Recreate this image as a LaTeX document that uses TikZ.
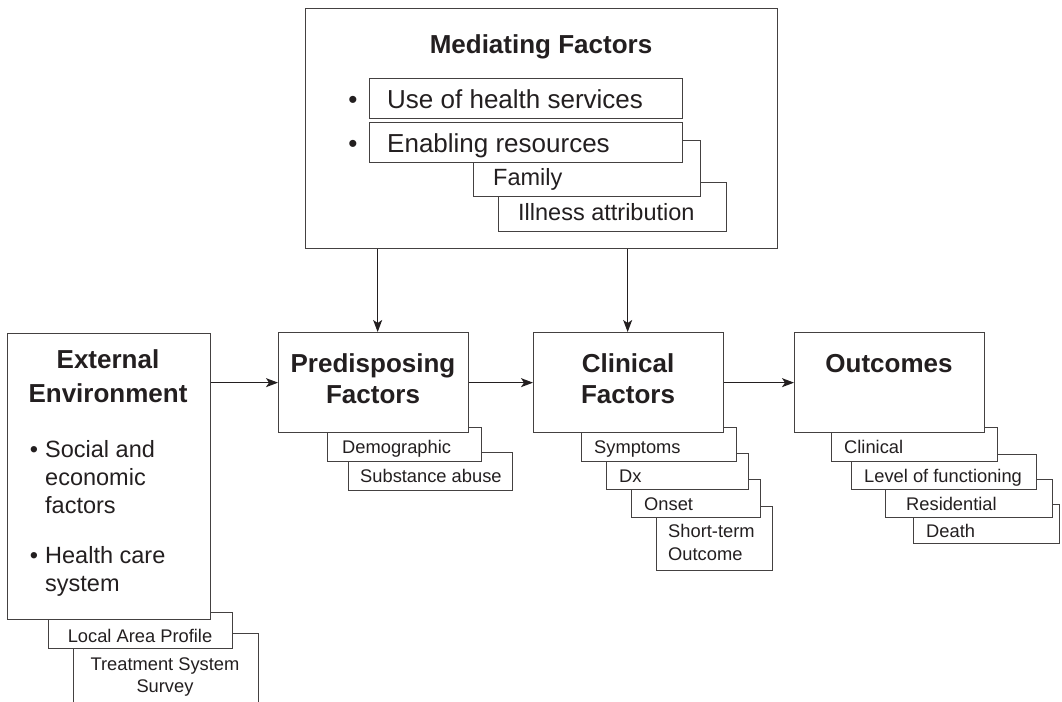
\documentclass[tikz,border=0pt]{standalone}
\usepackage{fontspec}
\setmainfont{Liberation Sans}
\usetikzlibrary{arrows.meta}
\definecolor{ink}{HTML}{231F20}
\tikzset{
  mbox/.style={draw=ink!85, line width=1.3pt, fill=white, anchor=north west, inner sep=0pt},
  sbox/.style={draw=ink!85, line width=1.1pt, fill=white, anchor=north west, inner sep=0pt},
  ttl/.style={font=\fontsize{26}{31}\selectfont\bfseries, text=ink, inner sep=0pt, anchor=base},
  big/.style={font=\fontsize{26}{31}\selectfont, text=ink, inner sep=0pt, anchor=base west},
  mid/.style={font=\fontsize{23.5}{28}\selectfont, text=ink, inner sep=0pt, anchor=base west},
  sml/.style={font=\fontsize{18.3}{22}\selectfont, text=ink, inner sep=0pt, anchor=base west},
  arr/.style={draw=ink, line width=1.1pt, -{Stealth[length=12pt,width=9pt,inset=3pt]}}
}
\begin{document}
\begin{tikzpicture}[x=1pt,y=-1pt]
\clip (0,0) rectangle (1062,701);
\fill[white] (0,0) rectangle (1062,701);

% Mediating factors
\node[mbox, minimum width=472, minimum height=240] (med) at (305,8) {};
\node[sbox, minimum width=228, minimum height=49] (ill) at (498,182) {};
\node[sbox, minimum width=227, minimum height=56] (fam) at (473,140) {};
\node[sbox, minimum width=313, minimum height=40] (ena) at (369,122) {};
\node[sbox, minimum width=313, minimum height=40] (use) at (369,78) {};
\node[ttl] (medT) at (541,54) {Mediating Factors};
\node[big, anchor=base] (b1) at (353,108) {•};
\node[big, anchor=base] (b2) at (353,152) {•};
\node[big] (useT) at (387,108) {Use of health services};
\node[big] (enaT) at (387,152) {Enabling resources};
\node[mid] (famT) at (493,185) {Family};
\node[mid] (illT) at (518,220) {Illness attribution};

% External environment
\node[sbox, minimum width=185, minimum height=100] (tss) at (73,633) {};
\node[sbox, minimum width=184, minimum height=36] (lap) at (48,612) {};
\node[mbox, minimum width=203, minimum height=286] (ext) at (7,333) {};
\node[ttl] (extT1) at (108,368) {External};
\node[ttl] (extT2) at (108,402) {Environment};
\node[mid, anchor=base] (b3) at (34,457) {•};
\node[mid, anchor=base] (b4) at (34,563) {•};
\node[mid] (e1) at (45,457) {Social and};
\node[mid] (e2) at (45,485) {economic};
\node[mid] (e3) at (45,513) {factors};
\node[mid] (e4) at (45,563) {Health care};
\node[mid] (e5) at (45,591) {system};
\node[sml, anchor=base] (lapT) at (140,642) {Local Area Profile};
\node[sml, anchor=base] (tssT1) at (165,670) {Treatment System};
\node[sml, anchor=base] (tssT2) at (165,692) {Survey};

% Predisposing factors
\node[sbox, minimum width=164, minimum height=38] (sub) at (348,452) {};
\node[sbox, minimum width=154, minimum height=34] (dem) at (327,427) {};
\node[mbox, minimum width=190, minimum height=100] (pred) at (278,332) {};
\node[ttl] (predT1) at (373,372) {Predisposing};
\node[ttl] (predT2) at (373,403) {Factors};
\node[sml] (demT) at (342,453) {Demographic};
\node[sml] (subT) at (360,482) {Substance abuse};

% Clinical factors
\node[sbox, minimum width=116, minimum height=64] (sto) at (656,506) {};
\node[sbox, minimum width=129, minimum height=38] (ons) at (631,479) {};
\node[sbox, minimum width=142, minimum height=36] (dx) at (606,453) {};
\node[sbox, minimum width=155, minimum height=34] (sym) at (581,427) {};
\node[mbox, minimum width=190, minimum height=100] (clin) at (533,332) {};
\node[ttl] (clinT1) at (628,372) {Clinical};
\node[ttl] (clinT2) at (628,403) {Factors};
\node[sml] (symT) at (594,453) {Symptoms};
\node[sml] (dxT) at (619,482) {Dx};
\node[sml] (onsT) at (644,510) {Onset};
\node[sml] (stoT1) at (668,537) {Short-term};
\node[sml] (stoT2) at (668,560) {Outcome};

% Outcomes
\node[sbox, minimum width=146, minimum height=39] (dea) at (913,504) {};
\node[sbox, minimum width=167, minimum height=38] (res) at (885,479) {};
\node[sbox, minimum width=185, minimum height=35] (lev) at (851,454) {};
\node[sbox, minimum width=166, minimum height=34] (cli) at (831,427) {};
\node[mbox, minimum width=190, minimum height=100] (out) at (794,332) {};
\node[ttl] (outT) at (889,372) {Outcomes};
\node[sml] (cliT) at (844,453) {Clinical};
\node[sml] (levT) at (864,482) {Level of functioning};
\node[sml] (resT) at (906,510) {Residential};
\node[sml] (deaT) at (926,537) {Death};

% Connectors
\draw[arr] ([xshift=4pt]pred.north |- med.south) -- ([xshift=4pt]pred.north);
\draw[arr] ([xshift=-1pt]clin.north |- med.south) -- ([xshift=-1pt]clin.north);
\draw[arr] (pred.west -| ext.east) -- (pred.west);
\draw[arr] (pred.east) -- (clin.west);
\draw[arr] (clin.east) -- (out.west);
\end{tikzpicture}
\end{document}
